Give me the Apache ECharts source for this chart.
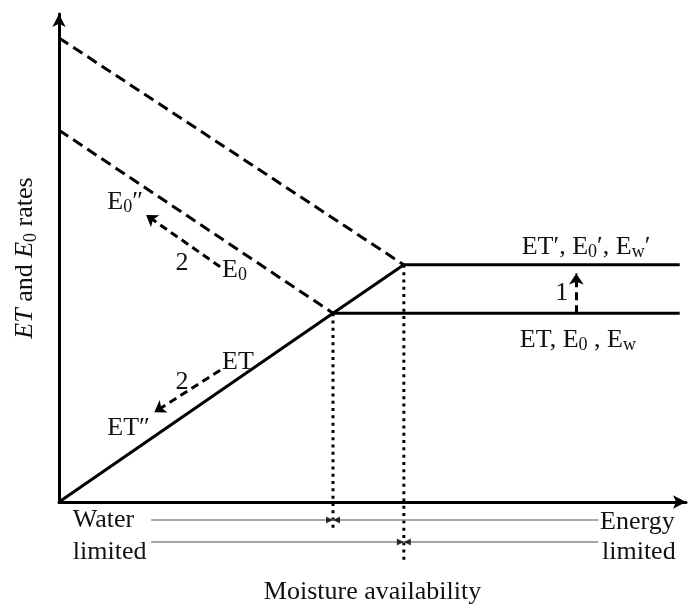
<!DOCTYPE html>
<html>
<head>
<meta charset="utf-8">
<script src="https://cdn.jsdelivr.net/npm/echarts@6/dist/echarts.min.js"></script>
<style>
  html, body { margin: 0; padding: 0; background: #fff; }
  #chart { width: 691px; height: 608px; }
</style>
</head>
<body>
<div id="chart"></div>
<script>
// Axis extents, arbitrary units (moisture availability vs. rate)
const xRange = [0, 100];
const yRange = [0, 100];

// Potential evaporation lines (dashed), falling as moisture increases
const e0Shifted = [[0, 95.1], [55.0, 48.6]];
const e0Base = [[0, 76.2], [43.7, 38.7]];
// Actual ET rising with moisture until it meets E0
const etRise = [[0, 0], [43.7, 38.7], [55.0, 48.6]];
// Energy-limited plateaus
const plateauShifted = [[55.0, 48.6], [99.0, 48.6]];
const plateauBase = [[43.7, 38.7], [99.0, 38.7]];
// Thresholds dropped below the moisture axis
const thresholdBase = [[43.7, 38.7], [43.7, -5.3]];
const thresholdShifted = [[55.0, 48.6], [55.0, -12.7]];
// Water-limited / energy-limited ranges and their split points
const rangeBase = [[14.7, -3.7], [86.0, -3.7]];
const rangeShifted = [[14.7, -8.2], [86.0, -8.2]];
const rangeSplits = [[43.7, -3.7], [55.0, -8.2]];
// Shift arrows, each [from, to]
const shiftArrows = [
  [[82.5, 38.7], [82.5, 46.8]],   // 1: plateau rises
  [[25.7, 48.2], [13.9, 58.8]],   // 2: E0 -> E0''
  [[25.7, 27.0], [15.2, 18.4]]    // 2: ET -> ET''
];
// Annotation texts and where they sit
const noteTexts = [
  'E{sub|0}″', '2', 'E{sub|0}',
  'ET', '2', 'ET″',
  '1',
  'ET′, E{sub|0}′, E{sub|w}′',
  'ET, E{sub|0} , E{sub|w}',
  'Water', 'limited', 'Energy', 'limited'
];
const noteAnchors = [
  [7.7, 61.5], [19.6, 49.0], [26.0, 47.5],
  [26.0, 28.7], [19.6, 24.6], [7.7, 15.2],
  [80.2, 42.8],
  [73.8, 52.3],
  [73.5, 33.2],
  [2.2, -3.7], [2.2, -10.2], [86.3, -4.1], [86.6, -10.2]
];
const noteAlign = ['left', 'center', 'left', 'left', 'center', 'left', 'center',
                   'left', 'left', 'left', 'left', 'left', 'left'];
const xName = 'Moisture availability';
const yName = '{it|ET} and {it|E}{sub|0} rates';

const FONT = 'Liberation Serif, Times New Roman, serif';
const INK = '#111';
const BASE = 26;
const LH = 27;

const rich = {
  it: { fontFamily: FONT, fontSize: BASE, fontStyle: 'italic', color: INK, lineHeight: LH,
        textBorderWidth: 0 },
  sub: { fontFamily: FONT, fontSize: 18, color: INK, verticalAlign: 'top',
         padding: [10, 0, 0, 0], lineHeight: 18, textBorderWidth: 0 }
};

const solid = { color: '#000', width: 3, type: 'solid' };
const dashed = { color: '#000', width: 3, type: [11, 6] };
const dotted = { color: '#000', width: 3, type: [3, 4.3] };
const thin = { color: '#8a8a8a', width: 1.5, type: 'solid' };

function path(data, style, z) {
  return {
    type: 'line', data: data, symbol: 'none', clip: false, silent: true,
    lineStyle: style, z: z || 2
  };
}

const chart = echarts.init(document.getElementById('chart'), null, { renderer: 'canvas' });

chart.setOption({
  animation: false,
  backgroundColor: '#fff',
  grid: { left: 59, right: 5, top: 14, bottom: 106, containLabel: false, outerBoundsMode: 'none' },
  xAxis: {
    type: 'value', min: xRange[0], max: xRange[1],
    axisLine: { show: true, onZero: false, symbol: ['none', 'arrow'], symbolSize: [10, 13],
                lineStyle: { color: '#000', width: 3 } },
    axisTick: { show: false }, axisLabel: { show: false }, splitLine: { show: false },
    name: xName, nameLocation: 'middle', nameGap: 77,
    nameTextStyle: { fontFamily: FONT, fontSize: BASE, color: INK, lineHeight: LH }
  },
  yAxis: {
    type: 'value', min: yRange[0], max: yRange[1],
    axisLine: { show: true, onZero: false, symbol: ['none', 'arrow'], symbolSize: [10, 13],
                lineStyle: { color: '#000', width: 3 } },
    axisTick: { show: false }, axisLabel: { show: false }, splitLine: { show: false },
    name: yName, nameLocation: 'middle', nameRotate: 90, nameGap: 20,
    nameTextStyle: { fontFamily: FONT, fontSize: BASE, color: INK, lineHeight: LH, rich: rich }
  },
  series: [
    path(thresholdBase, dotted, 1),
    path(thresholdShifted, dotted, 1),
    path(rangeBase, thin, 1),
    path(rangeShifted, thin, 1),
    path(e0Shifted, dashed),
    path(e0Base, dashed),
    path(etRise, solid),
    path(plateauShifted, solid),
    path(plateauBase, solid),
    {
      type: 'scatter', data: rangeSplits, clip: false, silent: true, z: 3,
      symbol: 'path://M0,0 L10,5 L0,10 Z M20,0 L10,5 L20,10 Z',
      symbolSize: [14, 7], itemStyle: { color: '#000' }
    },
    {
      type: 'lines', coordinateSystem: 'cartesian2d', polyline: false, silent: true, z: 3,
      symbol: ['none', 'arrow'], symbolSize: 11,
      lineStyle: { color: '#000', width: 3, type: [8, 5], opacity: 1, curveness: 0 },
      data: shiftArrows.map(c => ({ coords: c }))
    },
    {
      type: 'scatter', symbolSize: 0, clip: false, silent: true, z: 4,
      itemStyle: { color: 'transparent', opacity: 1 },
      data: noteAnchors.map((p, i) => ({
        value: p,
        label: { align: noteAlign[i], formatter: noteTexts[i] }
      })),
      label: {
        show: true, position: 'inside', verticalAlign: 'middle',
        fontFamily: FONT, fontSize: BASE, color: INK, lineHeight: LH,
        textBorderWidth: 0, textBorderColor: 'transparent', rich: rich
      }
    }
  ]
});
</script>
</body>
</html>
